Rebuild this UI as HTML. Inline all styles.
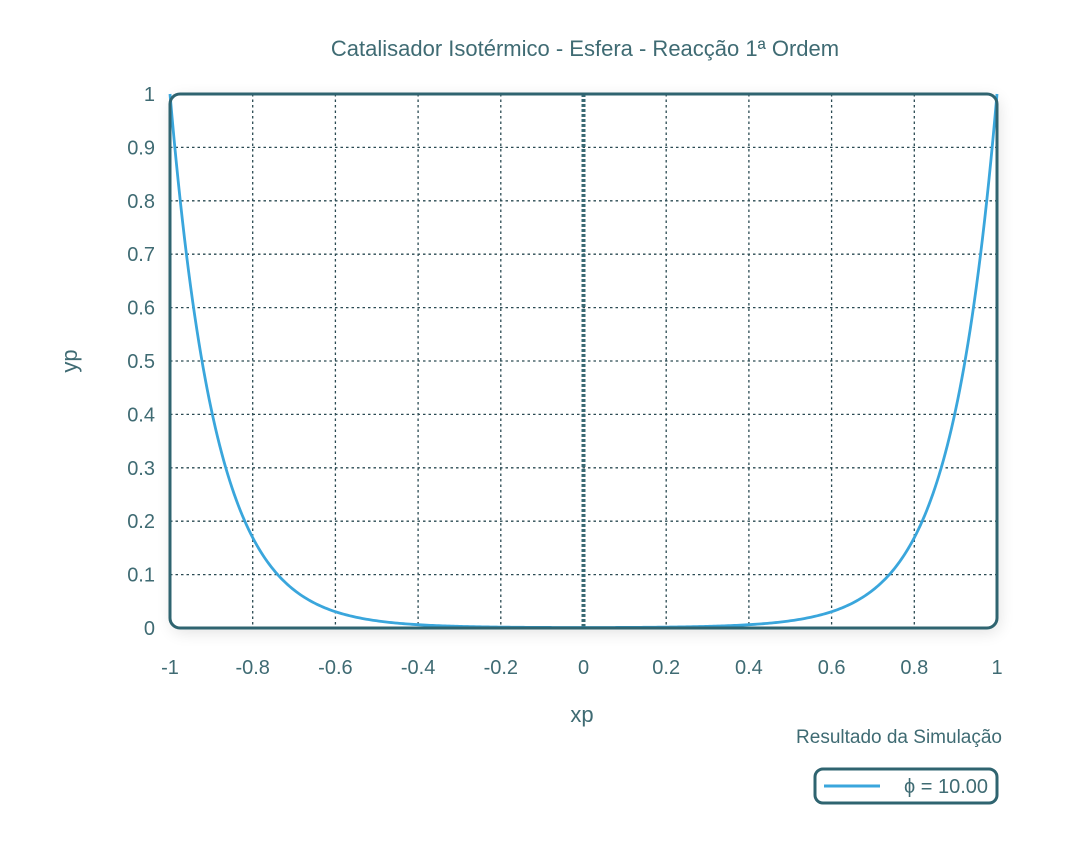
<!DOCTYPE html>
<html><head><meta charset="utf-8"><style>
html,body{margin:0;padding:0;background:#fff;}
svg text{font-family:"Liberation Sans",sans-serif;fill:#3f6b73;}
</style></head><body>
<svg id="s" width="1080" height="838" xmlns="http://www.w3.org/2000/svg">
<defs><filter id="sh" x="-10%" y="-10%" width="120%" height="120%"><feGaussianBlur stdDeviation="8"/></filter></defs>
<rect x="172" y="98" width="827" height="534" rx="10" fill="#000" opacity="0.12" filter="url(#sh)"/>
<rect x="170" y="94" width="827" height="534" rx="10" fill="#fff"/>
<g id="grid" stroke="#2a4a52" stroke-width="1.3" stroke-dasharray="2.5,3"></g>
<line x1="583.5" y1="94" x2="583.5" y2="628" stroke="#3a6a74" stroke-width="4" stroke-dasharray="3,2"/>
<path id="curve" fill="none" stroke="#3aa6dc" stroke-width="2.8"/>
<rect x="170" y="94" width="827" height="534" rx="10" fill="none" stroke="#2f6470" stroke-width="3"/>
<text x="585" y="56" font-size="22" text-anchor="middle">Catalisador Isotérmico - Esfera - Reacção 1ª Ordem</text>
<g id="yl" font-size="20" text-anchor="end"></g>
<g id="xl" font-size="20" text-anchor="middle"></g>
<text x="77" y="361" font-size="22" text-anchor="middle" transform="rotate(-90 77 361)">yp</text>
<text x="582" y="722" font-size="22" text-anchor="middle">xp</text>
<text x="1002" y="743" font-size="19" text-anchor="end">Resultado da Simulação</text>
<rect x="815" y="769" width="182" height="34" rx="8" fill="#fff" stroke="#2f6470" stroke-width="3"/>
<line x1="824" y1="786" x2="880" y2="786" stroke="#3aa6dc" stroke-width="3"/>
<text x="988" y="793" font-size="20" text-anchor="end">ϕ = 10.00</text>
</svg>
<script>
var ns="http://www.w3.org/2000/svg";
function X(v){return 170+(v+1)/2*827;}
function Y(v){return 628-v*534;}
var g=document.getElementById('grid'),yl=document.getElementById('yl'),xl=document.getElementById('xl');
for(var i=1;i<10;i++){var l=document.createElementNS(ns,'line');l.setAttribute('x1',170);l.setAttribute('x2',997);l.setAttribute('y1',Y(i/10));l.setAttribute('y2',Y(i/10));g.appendChild(l);}
for(var i=-4;i<=4;i++){if(i==0)continue;var l=document.createElementNS(ns,'line');l.setAttribute('y1',94);l.setAttribute('y2',628);l.setAttribute('x1',X(i/5));l.setAttribute('x2',X(i/5));g.appendChild(l);}
for(var i=0;i<=10;i++){var t=document.createElementNS(ns,'text');t.setAttribute('x',155);t.setAttribute('y',Y(i/10)+7);t.textContent=(i==0?'0':i==10?'1':'0.'+i);yl.appendChild(t);}
var xs=['-1','-0.8','-0.6','-0.4','-0.2','0','0.2','0.4','0.6','0.8','1'];
for(var i=0;i<=10;i++){var t=document.createElementNS(ns,'text');t.setAttribute('x',X(-1+i*0.2));t.setAttribute('y',674);t.textContent=xs[i];xl.appendChild(t);}
var d='',phi=10;
for(var k=0;k<=400;k++){var x=-1+k/200;var y=Math.abs(x)<1e-6?phi/Math.sinh(phi):Math.sinh(phi*x)/(x*Math.sinh(phi));d+=(k?'L':'M')+X(x).toFixed(2)+' '+Y(y).toFixed(2);}
document.getElementById('curve').setAttribute('d',d);
</script>
</body></html>
